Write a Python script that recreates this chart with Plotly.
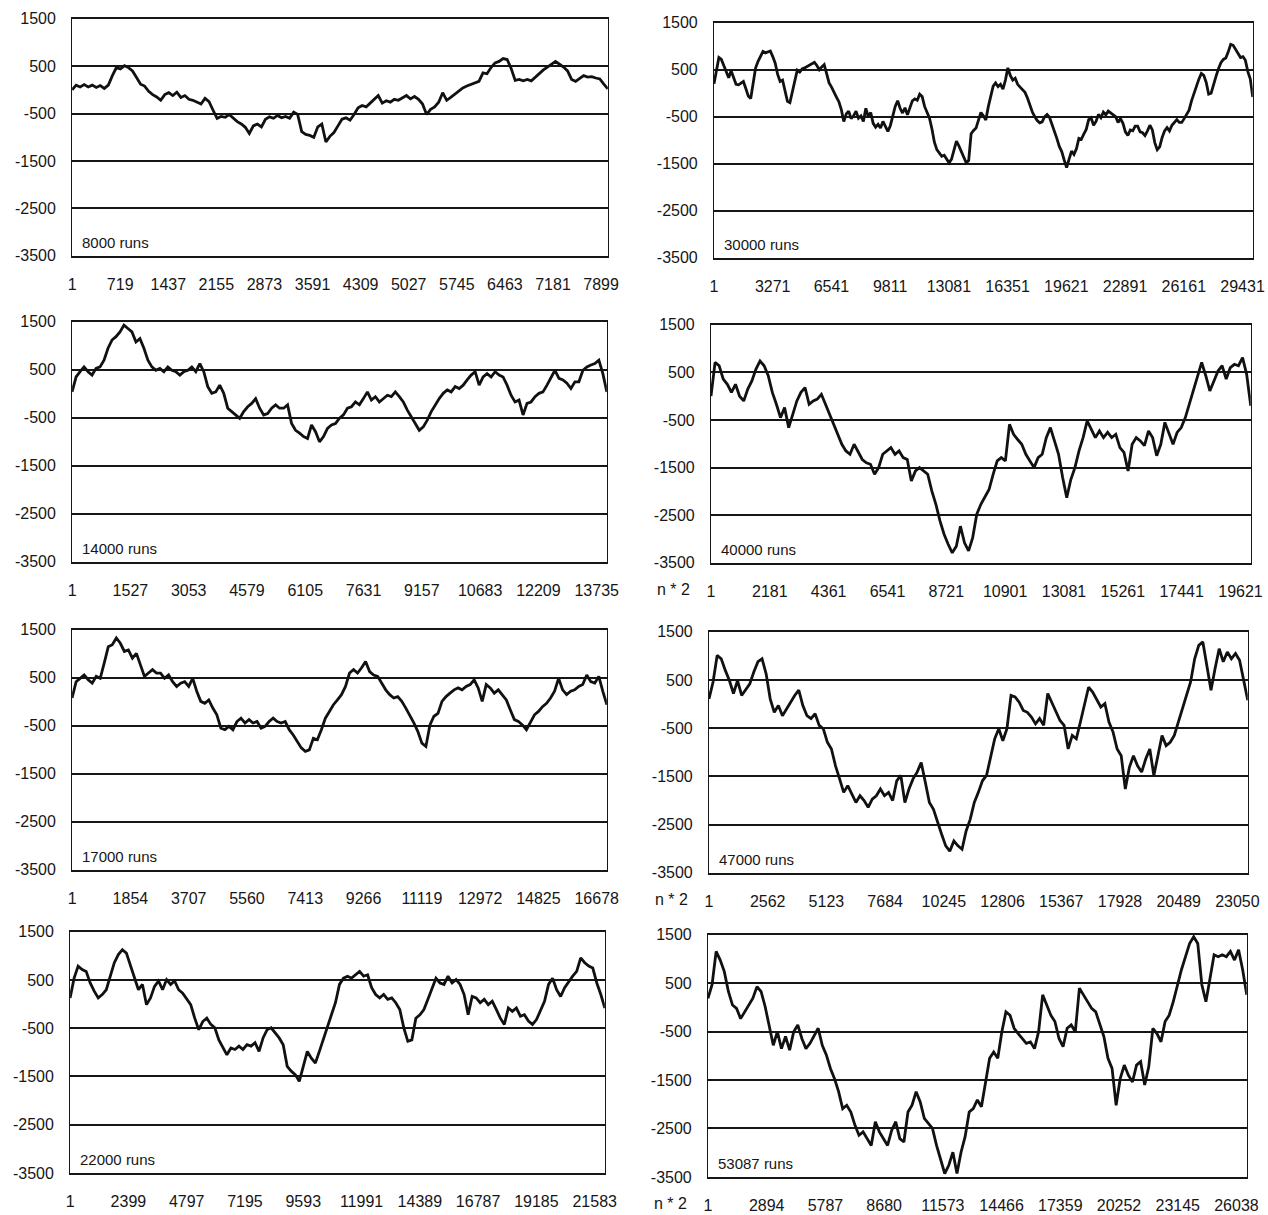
import numpy as np
import plotly.graph_objects as go

# Running score of a betting series, sampled along the run index.
runs_8000 = [0, 100, 60, 110, 60, 100, 50, 90, 30, 100, 300, 470, 440, 510, 470, 400, 260, 120, 80, -30,
             -100, -150, -220, -100, -60, -120, -50, -160, -120, -200, -220, -260, -300, -180, -250, -430,
             -600, -560, -580, -520, -600, -670, -720, -790, -920, -760, -720, -780, -620, -570, -600, -540,
             -590, -560, -600, -470, -520, -880, -940, -960, -1000, -780, -720, -1100, -980, -900, -760, -620,
             -590, -640, -520, -380, -330, -360, -280, -200, -120, -280, -230, -260, -200, -220, -170, -120,
             -190, -140, -200, -300, -520, -410, -360, -260, -60, -220, -160, -90, -30, 40, 80, 110, 140, 180,
             360, 340, 470, 570, 600, 660, 640, 450, 200, 220, 190, 220, 190, 270, 330, 420, 480, 540, 600, 540,
             480, 400, 220, 180, 250, 300, 270, 280, 250, 230, 120, 20]

runs_30000 = [200, 480, 760, 720, 600, 460, 330, 480, 320, 190, 180, 210, 250, 100, -60, -110, 230, 540, 680,
              800, 890, 860, 880, 900, 780, 640, 400, 250, 280, 40, -170, -200, 20, 250, 490, 450, 520, 540, 570,
              610, 640, 660, 590, 500, 560, 610, 420, 220, 130, 10, -80, -180, -350, -600, -440, -380, -540,
              -480, -380, -530, -480, -600, -320, -500, -410, -640, -720, -660, -740, -600, -700, -810, -690,
              -480, -280, -160, -320, -420, -310, -460, -310, -160, -120, -150, -20, -70, -280, -390, -530, -760,
              -1040, -1200, -1280, -1340, -1320, -1410, -1480, -1400, -1220, -1020, -1120, -1240, -1340, -1480,
              -1430, -860, -790, -740, -570, -410, -480, -570, -290, -70, 150, 220, 140, 190, 90, 280, 540, 380,
              280, 320, 190, 130, 80, 20, -100, -260, -400, -500, -580, -630, -610, -500, -450, -510, -650, -800,
              -960, -1130, -1240, -1420, -1580, -1400, -1230, -1300, -1180, -960, -980, -870, -770, -560, -520,
              -680, -600, -450, -520, -400, -460, -380, -420, -440, -500, -620, -540, -640, -820, -900, -780,
              -800, -700, -700, -820, -840, -900, -800, -680, -780, -1050, -1200, -1140, -940, -800, -730, -800,
              -680, -620, -560, -620, -620, -540, -460, -360, -160, 0, 150, 300, 420, 380, 230, -20, 0, 200, 360,
              520, 650, 720, 750, 880, 1040, 1020, 930, 840, 760, 780, 700, 460, 300, -80]

runs_14000 = [40, 350, 460, 560, 460, 390, 530, 560, 700, 950, 1120, 1190, 1290, 1430, 1360, 1290, 1080, 1150,
              950, 700, 560, 490, 530, 460, 560, 490, 460, 390, 460, 490, 560, 460, 630, 460, 150, 10, 40, 180,
              10, -300, -370, -440, -510, -370, -270, -200, -100, -300, -440, -410, -300, -230, -300, -300, -230,
              -620, -760, -820, -890, -930, -650, -790, -1000, -890, -720, -650, -620, -510, -440, -300, -270,
              -170, -230, -100, 40, -130, -60, -170, -100, -30, -60, 40, -60, -170, -340, -480, -620, -760, -690,
              -550, -370, -230, -100, 10, 80, 40, 150, 110, 180, 290, 390, 460, 180, 350, 420, 350, 460, 390, 350,
              180, -30, -170, -130, -440, -200, -170, -60, 10, 40, 180, 320, 490, 320, 290, 220, 110, 250, 250,
              490, 560, 600, 630, 700, 420, 40]

runs_40000_n2 = [0, 710, 640, 360, 250, 80, 250, 0, -100, 150, 320, 570, 740, 640, 430, 80, -170, -450, -240,
                 -660, -380, -100, 80, 180, -170, -100, -60, 40, -170, -380, -590, -800, -1010, -1150, -1220,
                 -1010, -1180, -1330, -1400, -1430, -1640, -1500, -1220, -1150, -1080, -1220, -1150, -1290,
                 -1330, -1780, -1570, -1500, -1570, -1640, -1990, -2270, -2620, -2900, -3110, -3290, -3150,
                 -2730, -3080, -3250, -2970, -2480, -2270, -2130, -1960, -1640, -1360, -1290, -1360, -590, -800,
                 -910, -1010, -1220, -1360, -1500, -1290, -1220, -870, -660, -940, -1220, -1710, -2130, -1750,
                 -1500, -1150, -870, -520, -690, -870, -730, -870, -760, -870, -800, -1080, -1180, -1570, -1010,
                 -870, -940, -1040, -730, -870, -1250, -1010, -550, -800, -1010, -760, -660, -450, -170, 110,
                 390, 710, 430, 110, 320, 530, 640, 360, 600, 670, 640, 810, 460, -200]

runs_17000 = [80, 420, 490, 560, 460, 390, 530, 490, 810, 1150, 1190, 1330, 1220, 1050, 1080, 910, 1010, 770,
              530, 600, 670, 600, 600, 490, 560, 420, 320, 390, 420, 320, 490, 220, 10, -30, 40, -130, -270,
              -550, -580, -510, -580, -410, -340, -440, -370, -440, -410, -550, -510, -410, -340, -410, -440,
              -410, -580, -690, -830, -960, -1030, -1000, -760, -790, -580, -340, -200, -60, 40, 150, 320, 600,
              670, 600, 710, 840, 630, 560, 530, 390, 250, 150, 80, 110, 10, -130, -270, -440, -620, -860, -930,
              -480, -300, -240, 10, 110, 180, 250, 290, 250, 320, 360, 460, 290, 10, 360, 290, 180, 250, 150, 40,
              -170, -370, -410, -480, -580, -410, -270, -200, -100, -30, 80, 220, 490, 250, 150, 220, 250, 320,
              360, 560, 420, 390, 530, 220, -60]

runs_47000_n2 = [110, 460, 1010, 940, 700, 490, 220, 490, 180, 290, 420, 670, 880, 940, 630, 110, -170, -30,
                 -240, -100, 40, 180, 290, -30, -240, -300, -200, -440, -510, -790, -930, -1280, -1550, -1830,
                 -1690, -1870, -2040, -1900, -2000, -2140, -1970, -1900, -1760, -1900, -1830, -2000, -1590,
                 -1480, -2040, -1760, -1550, -1410, -1210, -1620, -2040, -2180, -2460, -2700, -2940, -3050,
                 -2840, -2940, -3010, -2630, -2390, -2040, -1830, -1590, -1480, -1070, -720, -510, -760, -510,
                 180, 150, 40, -130, -170, -270, -410, -300, -440, 220, 40, -130, -340, -440, -930, -650, -720,
                 -370, -30, 350, 250, 80, -60, 10, -370, -580, -930, -1070, -1760, -1310, -1070, -1280, -1410,
                 -1140, -930, -1480, -1070, -650, -860, -790, -650, -370, -100, 180, 460, 940, 1220, 1290, 810,
                 290, 740, 1150, 880, 1080, 940, 1050, 910, 460, 80]

runs_22000 = [130, 540, 790, 720, 680, 440, 270, 130, 200, 300, 580, 860, 1030, 1130, 1060, 820, 540, 300, 410,
              -10, 130, 370, 480, 300, 510, 410, 480, 300, 230, 100, -10, -290, -530, -360, -290, -420, -490,
              -740, -910, -1050, -910, -940, -870, -940, -840, -870, -800, -980, -700, -530, -490, -600, -700,
              -840, -1290, -1390, -1460, -1600, -1290, -980, -1120, -1220, -980, -740, -490, -220, 30, 410, 540,
              580, 540, 610, 680, 580, 610, 340, 200, 130, 200, 100, 130, 30, -110, -490, -770, -740, -290, -220,
              -110, 100, 300, 540, 440, 410, 580, 440, 510, 410, 200, -220, 160, 130, 30, 100, -10, 60, -110,
              -290, -420, -80, -150, -80, -250, -220, -350, -420, -320, -110, 60, 410, 540, 300, 160, 340, 470,
              580, 680, 960, 860, 790, 750, 440, 200, -80]

runs_53087_n2 = [190, 470, 1160, 980, 740, 330, 50, -20, -230, -90, 20, 190, 430, 330, 20, -360, -780, -500,
                 -850, -600, -880, -500, -360, -640, -850, -740, -570, -430, -780, -980, -1260, -1470, -1740,
                 -2090, -2020, -2160, -2430, -2640, -2570, -2710, -2850, -2360, -2570, -2710, -2850, -2540,
                 -2360, -2710, -2780, -2160, -2020, -1740, -1950, -2290, -2400, -2500, -2850, -3120, -3430,
                 -3260, -2990, -3430, -2990, -2670, -2160, -2090, -1910, -2050, -1540, -1050, -920, -1050, -500,
                 -90, -160, -430, -540, -640, -740, -710, -850, -500, 260, 50, -160, -290, -640, -810, -430, -360,
                 -500, 400, 260, 120, -20, -90, -360, -600, -1050, -1260, -2020, -1470, -1190, -1400, -1540,
                 -1190, -1120, -1600, -1220, -430, -540, -710, -290, -160, 120, 470, 780, 1050, 1320, 1460, 1320,
                 470, 120, 600, 1090, 1050, 1090, 1050, 1160, 980, 1190, 780, 260]

# Length of the run axis and the spacing of its category labels
axis_runs = [8000, 30000, 14000, 20000, 17000, 23500, 22000, 26544]
label_steps = [718, 3270, 1526, 2180, 1853, 2561, 2398, 2893]
label_last = [7899, 29431, 13735, 19621, 16678, 23050, 21583, 26038]
run_notes = ["8000 runs", "30000 runs", "14000 runs", "40000 runs",
             "17000 runs", "47000 runs", "22000 runs", "53087 runs"]
halved = [False, False, False, True, False, True, False, True]
series = [runs_8000, runs_30000, runs_14000, runs_40000_n2,
          runs_17000, runs_47000_n2, runs_22000, runs_53087_n2]

score_ticks = [1500, 500, -500, -1500, -2500, -3500]

# Figure size and the mapping from sheet pixels to figure pixels
W, H = 1268, 1225
SCALE = 0.986
OFF_X, OFF_Y = 4.0, 8.25


def fx(p):
    return (p - OFF_X) / SCALE


def fy(p):
    return (p - OFF_Y) / SCALE


# plot-area boxes in sheet pixels: left, right, top, bottom
boxes = [(72, 607, 19, 256), (713, 1251, 23, 258),
         (72, 606, 322, 562), (710, 1249, 325, 563),
         (72, 606, 630, 870), (708, 1246, 632, 873),
         (70, 604, 932, 1173), (707, 1245, 935, 1177)]

INK = "#161616"
FONT = "Liberation Sans, Arial, sans-serif"

fig = go.Figure()
layout = dict(width=W, height=H, margin=dict(l=0, r=0, t=0, b=0),
              paper_bgcolor="white", plot_bgcolor="white", showlegend=False,
              annotations=[])

for i, vals in enumerate(series):
    k = i + 1
    sfx = "" if k == 1 else str(k)
    xs = np.linspace(1, axis_runs[i], len(vals))
    fig.add_trace(go.Scatter(x=xs, y=vals, mode="lines",
                             line=dict(color="#111111", width=2.8),
                             xaxis=f"x{sfx}", yaxis=f"y{sfx}", hoverinfo="skip"))
    l0, r0, t0, b0 = boxes[i]
    l, r, t, b = fx(l0), fx(r0), fy(t0), fy(b0)
    tv = list(range(1, label_last[i] + 1, label_steps[i]))
    layout[f"xaxis{sfx}"] = dict(
        domain=[l / W, r / W], anchor=f"y{sfx}", range=[1, axis_runs[i]],
        tickmode="array", tickvals=tv, ticktext=[str(v) for v in tv],
        showgrid=False, zeroline=False, showline=True, mirror=True,
        linecolor=INK, linewidth=1.5, ticks="outside", ticklen=13,
        tickcolor="rgba(0,0,0,0)", tickfont=dict(family=FONT, size=16, color=INK))
    layout[f"yaxis{sfx}"] = dict(
        domain=[1 - b / H, 1 - t / H], anchor=f"x{sfx}", range=[-3500, 1500],
        tickmode="array", tickvals=score_ticks, ticktext=[str(v) for v in score_ticks],
        showgrid=True, gridcolor=INK, gridwidth=1.5, zeroline=False,
        showline=True, mirror=True, linecolor=INK, linewidth=1.1,
        ticks="outside", ticklen=12, tickcolor="rgba(0,0,0,0)",
        tickfont=dict(family=FONT, size=16, color=INK))
    layout["annotations"].append(dict(
        text=run_notes[i], xref=f"x{sfx} domain", yref=f"y{sfx} domain",
        x=0.014, y=0.012, xanchor="left", yanchor="bottom", showarrow=False,
        font=dict(family=FONT, size=15, color=INK)))
    if halved[i]:
        layout["annotations"].append(dict(
            text="n * 2", xref="paper", yref=f"y{sfx} domain",
            x=(l - 19) / W, y=0, yshift=-27, xanchor="right", yanchor="middle",
            showarrow=False, font=dict(family=FONT, size=16, color=INK)))

fig.update_layout(**layout)
fig.write_html("out.html")
